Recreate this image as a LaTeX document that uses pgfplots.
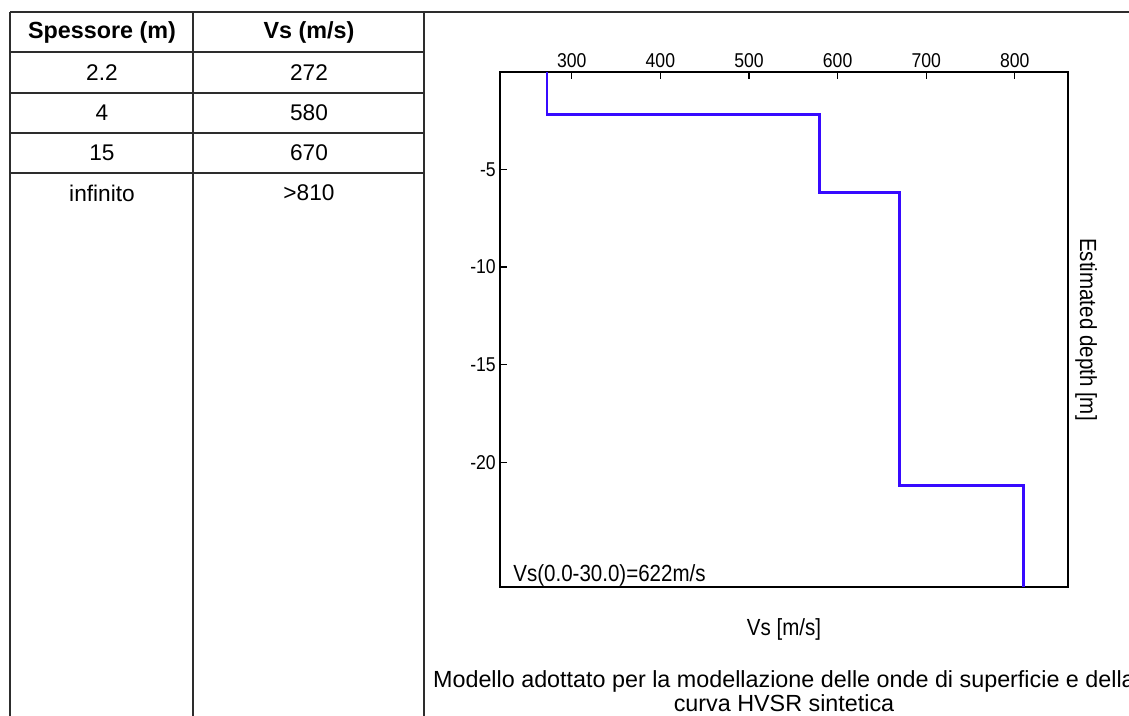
\documentclass[border=0pt]{standalone}
\usepackage{fontspec}
\setmainfont{Liberation Sans}
\newfontfamily\tickfont[FakeStretch=0.88]{Liberation Sans}
\usepackage{pgfplots}
\pgfplotsset{compat=1.18}
\definecolor{tbl}{RGB}{45,45,45}
\definecolor{prof}{RGB}{55,10,255}
\newcommand\tkf{\tickfont\fontsize{15}{16}\selectfont}
\begin{document}
\begin{tikzpicture}[x=0.75pt,y=-0.75pt]
\useasboundingbox (0,0) rectangle (1129,716);
\clip (0,0) rectangle (1129,716);
% table
\draw[tbl, line width=1.6pt] (10,12) -- (1129,12);
\foreach \yy in {52,93,133,173} \draw[tbl,line width=1.6pt] (10,\yy) -- (424,\yy);
\foreach \xx in {10,193,424} \draw[tbl,line width=1.6pt] (\xx,12) -- (\xx,716);
\node[font=\fontsize{17.5}{20}\selectfont\bfseries] at (102,32) {Spessore (m)};
\node[font=\fontsize{17.5}{20}\selectfont\bfseries] at (309,32) {Vs (m/s)};
\foreach \a/\b/\yy in {2.2/272/73, 4/580/113, 15/670/153, infinito/>810/193}{
  \node[font=\fontsize{17}{20}\selectfont] at (102,\yy) {\a};
  \node[font=\fontsize{17}{20}\selectfont] at (309,\yy) {\b};
}
% caption
\node[align=center, font=\fontsize{17.5}{17.5}\selectfont, inner sep=0pt] at (784,691) {Modello adottato per la modellazione delle onde di superficie e della\\curva HVSR sintetica};
\begin{axis}[at={(375pt,-440.25pt)}, anchor=south west,
  scale only axis, width=426pt, height=386.25pt,
  xmin=219, xmax=860, ymin=-26.4, ymax=0,
  clip mode=individual,
  xtick={300,400,...,800}, ytick={-20,-15,-10,-5},
  xticklabels={300,400,500,600,700,800},
  yticklabels={-20,-15,-10,-5},
  xtick pos=right, xticklabel pos=right, ytick pos=left,
  tick align=inside, major tick length=5.25pt,
  tick style={black, line width=0.9pt},
  axis line style={line width=1.1pt, black},
  xticklabel style={font=\tkf, inner sep=3pt},
  yticklabel style={font=\tkf, inner sep=3pt},
]
\addplot[prof, line width=2.2pt, line join=miter] coordinates {(272,0) (272,-2.2) (580,-2.2) (580,-6.2) (670,-6.2) (670,-21.2) (810,-21.2) (810,-26.4)};
\node[anchor=west, inner sep=0pt, font=\tickfont\fontsize{17.5}{18}\selectfont] at (axis description cs:0.023,0.023) {Vs(0.0-30.0)=622m/s};
\node[inner sep=0pt, font=\tickfont\fontsize{17.5}{18}\selectfont] at (axis description cs:0.5,-0.083) {Vs [m/s]};
\node[rotate=-90, inner sep=0pt, font=\tickfont\fontsize{17.5}{18}\selectfont] at (axis description cs:1.032,0.5) {Estimated depth [m]};
\end{axis}
\end{tikzpicture}
\end{document}
